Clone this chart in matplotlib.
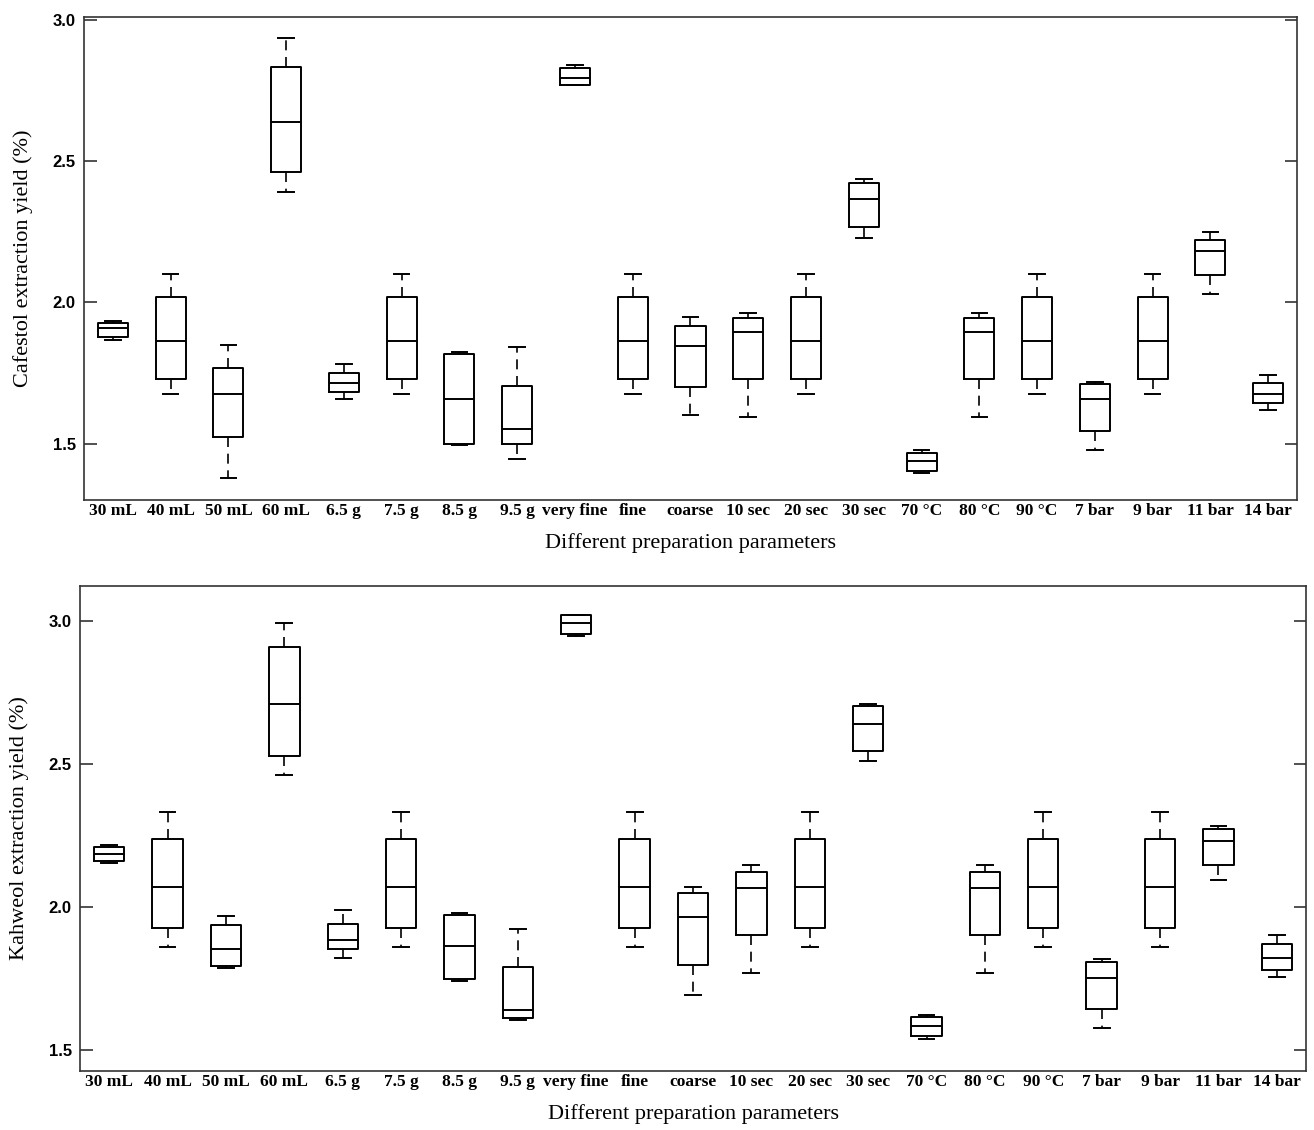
import matplotlib.pyplot as plt

labels = ["30 mL", "40 mL", "50 mL", "60 mL", "6.5 g", "7.5 g", "8.5 g", "9.5 g",
          "very fine", "fine", "coarse", "10 sec", "20 sec", "30 sec", "70 \u00b0C",
          "80 \u00b0C", "90 \u00b0C", "7 bar", "9 bar", "11 bar", "14 bar"]

# Cafestol (top panel)
caf_whislo = [1.867, 1.677, 1.378, 2.392, 1.656, 1.677, 1.494, 1.446, 2.768, 1.677, 1.601,
              1.595, 1.677, 2.228, 1.394, 1.595, 1.677, 1.476, 1.677, 2.028, 1.620]
caf_q1 = [1.878, 1.728, 1.522, 2.462, 1.681, 1.728, 1.500, 1.499, 2.768, 1.728, 1.701,
          1.728, 1.728, 2.267, 1.404, 1.728, 1.728, 1.544, 1.728, 2.097, 1.642]
caf_med = [1.910, 1.863, 1.675, 2.637, 1.714, 1.863, 1.657, 1.553, 2.795, 1.863, 1.846,
           1.895, 1.863, 2.365, 1.437, 1.895, 1.863, 1.657, 1.863, 2.181, 1.676]
caf_q3 = [1.927, 2.019, 1.767, 2.833, 1.748, 2.019, 1.816, 1.703, 2.829, 2.019, 1.916,
          1.946, 2.019, 2.424, 1.468, 1.946, 2.019, 1.709, 2.019, 2.220, 1.713]
caf_whishi = [1.935, 2.099, 1.848, 2.934, 1.781, 2.099, 1.824, 1.843, 2.839, 2.099, 1.949,
              1.963, 2.099, 2.437, 1.477, 1.963, 2.099, 1.719, 2.099, 2.249, 1.742]

# Kahweol (bottom panel)
kah_whislo = [2.154, 1.862, 1.786, 2.462, 1.822, 1.862, 1.741, 1.604, 2.948, 1.862, 1.692,
              1.770, 1.862, 2.512, 1.538, 1.770, 1.862, 1.579, 1.862, 2.095, 1.757]
kah_q1 = [2.162, 1.928, 1.795, 2.527, 1.853, 1.928, 1.748, 1.614, 2.954, 1.928, 1.798,
          1.903, 1.928, 2.547, 1.548, 1.903, 1.928, 1.643, 1.928, 2.146, 1.780]
kah_med = [2.187, 2.072, 1.854, 2.709, 1.885, 2.072, 1.864, 1.640, 2.993, 2.072, 1.966,
           2.068, 2.072, 2.640, 1.584, 2.068, 2.072, 1.752, 2.072, 2.232, 1.823]
kah_q3 = [2.210, 2.238, 1.938, 2.910, 1.941, 2.238, 1.973, 1.791, 3.020, 2.238, 2.050,
          2.123, 2.238, 2.702, 1.615, 2.123, 2.238, 1.809, 2.238, 2.275, 1.870]
kah_whishi = [2.219, 2.334, 1.970, 2.994, 1.990, 2.334, 1.979, 1.923, 3.020, 2.334, 2.072,
              2.148, 2.334, 2.709, 1.623, 2.148, 2.334, 1.817, 2.334, 2.285, 1.903]


def make_stats(lo, q1, med, q3, hi):
    return [dict(whislo=a, q1=b, med=c, q3=d, whishi=e, fliers=[])
            for a, b, c, d, e in zip(lo, q1, med, q3, hi)]


def draw_panel(ax, stats, ylabel, ylim):
    pos = list(range(1, len(labels) + 1))
    ax.bxp(
        stats,
        positions=pos,
        widths=0.52,
        capwidths=0.27,
        showfliers=False,
        boxprops=dict(color="black", linewidth=1.4),
        medianprops=dict(color="black", linewidth=1.4),
        whiskerprops=dict(color="black", linewidth=1.2, linestyle=(0, (6, 4))),
        capprops=dict(color="black", linewidth=1.4),
    )
    ax.set_xlim(0.5, len(labels) + 0.5)
    ax.set_ylim(*ylim)
    ax.set_yticks([1.5, 2.0, 2.5, 3.0])
    ax.set_yticklabels(["1.5", "2.0", "2.5", "3.0"], family="Liberation Sans",
                       fontsize=12, fontweight="bold")
    ax.set_xticks(pos)
    ax.set_xticklabels(labels, family="Liberation Serif", fontsize=12.5,
                       fontweight="bold")
    ax.tick_params(axis="x", length=0, pad=2)
    ax.tick_params(axis="y", direction="in", length=9, width=1.2, right=True,
                   color="#333333", pad=6)
    for s in ax.spines.values():
        s.set_color("#333333")
        s.set_linewidth(1.2)
    ax.set_xlabel("Different preparation parameters", family="Liberation Serif",
                  fontsize=16, labelpad=10)
    ax.set_ylabel(ylabel, family="Liberation Serif", fontsize=16, labelpad=14)


fig = plt.figure(figsize=(13.14, 11.3), dpi=100)
ax1 = fig.add_axes([84 / 1314, 1 - 500 / 1130, 1213 / 1314, 483 / 1130])
ax2 = fig.add_axes([80 / 1314, 1 - 1071 / 1130, 1226 / 1314, 485 / 1130])

draw_panel(ax1, make_stats(caf_whislo, caf_q1, caf_med, caf_q3, caf_whishi),
           "Cafestol extraction yield (%)", (1.30, 3.01))
draw_panel(ax2, make_stats(kah_whislo, kah_q1, kah_med, kah_q3, kah_whishi),
           "Kahweol extraction yield (%)", (1.427, 3.123))

fig.savefig("out.png", dpi=100)
